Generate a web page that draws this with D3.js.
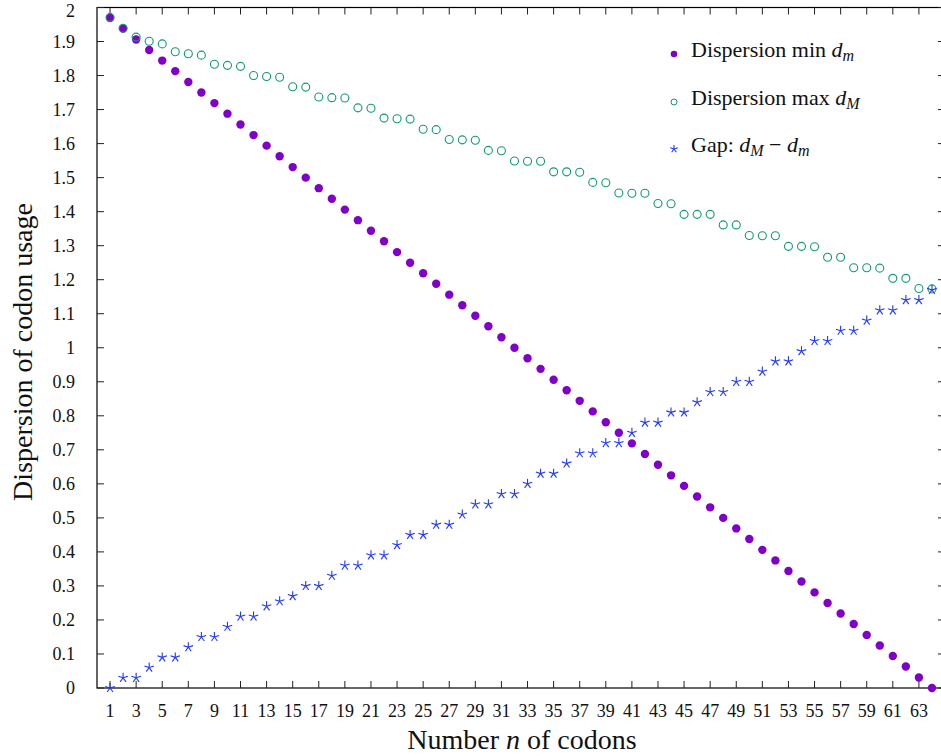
<!DOCTYPE html>
<html><head><meta charset="utf-8">
<script src="https://cdn.jsdelivr.net/npm/d3@7"></script>
<style>body{margin:0;background:#fff}svg{display:block}text{font-family:"Liberation Serif",serif;fill:#111}</style>
</head><body>
<script>
const codons = [1,2,3,4,5,6,7,8,9,10,11,12,13,14,15,16,17,18,19,20,21,22,23,24,25,26,27,28,29,30,31,32,33,34,35,36,37,38,39,40,41,42,43,44,45,46,47,48,49,50,51,52,53,54,55,56,57,58,59,60,61,62,63,64];
const dispMin = [1.969,1.938,1.906,1.875,1.844,1.813,1.781,1.750,1.719,1.688,1.656,1.625,1.594,1.563,1.531,1.500,1.469,1.438,1.406,1.375,1.344,1.313,1.281,1.250,1.219,1.188,1.156,1.125,1.094,1.063,1.031,1.000,0.969,0.938,0.906,0.875,0.844,0.813,0.781,0.750,0.719,0.688,0.656,0.625,0.594,0.563,0.531,0.500,0.469,0.438,0.406,0.375,0.344,0.313,0.281,0.250,0.219,0.188,0.156,0.125,0.094,0.063,0.031,0.000];
const dispMax = [1.971,1.939,1.913,1.901,1.893,1.870,1.864,1.860,1.833,1.830,1.827,1.800,1.797,1.795,1.767,1.766,1.737,1.735,1.734,1.705,1.704,1.675,1.673,1.672,1.642,1.641,1.612,1.611,1.610,1.580,1.579,1.549,1.548,1.548,1.517,1.517,1.516,1.486,1.485,1.455,1.454,1.454,1.424,1.423,1.392,1.392,1.392,1.361,1.361,1.330,1.329,1.329,1.298,1.298,1.297,1.266,1.266,1.235,1.235,1.234,1.204,1.204,1.174,1.173];
const gap = [0,0.03,0.03,0.06,0.09,0.09,0.12,0.15,0.15,0.18,0.21,0.21,0.24,0.255,0.27,0.30,0.30,0.33,0.36,0.36,0.39,0.39,0.42,0.45,0.45,0.48,0.48,0.51,0.54,0.54,0.57,0.57,0.60,0.63,0.63,0.66,0.69,0.69,0.72,0.72,0.75,0.78,0.78,0.81,0.81,0.84,0.87,0.87,0.90,0.90,0.93,0.96,0.96,0.99,1.02,1.02,1.05,1.05,1.08,1.11,1.11,1.14,1.14,1.17];
const xTicks = [1,3,5,7,9,11,13,15,17,19,21,23,25,27,29,31,33,35,37,39,41,43,45,47,49,51,53,55,57,59,61,63];
const yTicks = [0,0.1,0.2,0.3,0.4,0.5,0.6,0.7,0.8,0.9,1,1.1,1.2,1.3,1.4,1.5,1.6,1.7,1.8,1.9,2];
const yTickLabels = ["0","0.1","0.2","0.3","0.4","0.5","0.6","0.7","0.8","0.9","1","1.1","1.2","1.3","1.4","1.5","1.6","1.7","1.8","1.9","2"];

const W = 941, H = 756;
const colMin = "#8000c8", colMax = "#129a6e", colGap = "#1f36ff";
const svg = d3.select("body").append("svg").attr("width", W).attr("height", H)
  .attr("font-family", "'Liberation Serif', serif");
const x = d3.scaleLinear().domain([0, 65]).range([97, 945]);
const y = d3.scaleLinear().domain([0, 2]).range([688, 7.5]);
const x0 = x.range()[0], x1 = x.range()[1], y0 = y.range()[0], y1 = y.range()[1];

svg.append("rect").attr("x", x0).attr("y", y1).attr("width", x1 - x0).attr("height", y0 - y1)
  .attr("fill", "none").attr("stroke", "#000").attr("stroke-width", 1.2);

const tl = 7;
const gx = svg.append("g");
xTicks.forEach(t => {
  gx.append("line").attr("x1", x(t)).attr("x2", x(t)).attr("y1", y0).attr("y2", y0 - tl).attr("stroke", "#222").attr("stroke-width", 1);
  gx.append("line").attr("x1", x(t)).attr("x2", x(t)).attr("y1", y1).attr("y2", y1 + tl).attr("stroke", "#222").attr("stroke-width", 1);
  gx.append("text").attr("x", x(t)).attr("y", 717).attr("text-anchor", "middle").attr("font-size", 18).text(t);
});
const gy = svg.append("g");
yTicks.forEach((t, i) => {
  gy.append("line").attr("x1", x0).attr("x2", x0 + tl).attr("y1", y(t)).attr("y2", y(t)).attr("stroke", "#222").attr("stroke-width", 1);
  gy.append("line").attr("x1", x1).attr("x2", x1 - tl).attr("y1", y(t)).attr("y2", y(t)).attr("stroke", "#222").attr("stroke-width", 1);
  gy.append("text").attr("x", 75).attr("y", Math.max(y(t) + 6, 16.5)).attr("text-anchor", "end").attr("font-size", 18).text(yTickLabels[i]);
});

const xt = svg.append("text").attr("x", 522).attr("y", 749).attr("text-anchor", "middle").attr("font-size", 28);
xt.append("tspan").text("Number ");
xt.append("tspan").attr("font-style", "italic").text("n");
xt.append("tspan").text(" of codons");
svg.append("text").attr("transform", "translate(32,352) rotate(-90)").attr("text-anchor", "middle").attr("font-size", 28).text("Dispersion of codon usage");

function star(g, cx, cy, r, col) {
  for (let k = 0; k < 5; k++) {
    const a = -Math.PI / 2 + k * 2 * Math.PI / 5;
    g.append("line").attr("x1", cx).attr("y1", cy).attr("x2", cx + r * Math.cos(a)).attr("y2", cy + r * Math.sin(a))
      .attr("stroke", col).attr("stroke-width", 1.1);
  }
}
const plot = svg.append("g");
plot.selectAll("circle.min").data(codons).enter().append("circle").attr("class", "min")
  .attr("cx", (d) => x(d)).attr("cy", (d, i) => y(dispMin[i])).attr("r", 4.2).attr("fill", colMin);
plot.selectAll("circle.max").data(codons).enter().append("circle").attr("class", "max")
  .attr("cx", (d) => x(d)).attr("cy", (d, i) => y(dispMax[i])).attr("r", 4).attr("fill", "none").attr("stroke", colMax).attr("stroke-width", 1.1);
const gs = plot.append("g");
codons.forEach((d, i) => star(gs, x(d), y(gap[i]), 5, colGap));

const lg = svg.append("g");
const rows = [
  {yb: 57, mk: "dot", main: "Dispersion min ", sub: "m", extra: false},
  {yb: 105, mk: "circ", main: "Dispersion max ", sub: "M", extra: false},
  {yb: 152, mk: "star", main: "Gap: ", sub: "M", extra: true}
];
rows.forEach(r => {
  const my = r.yb - 3;
  if (r.mk === "dot") lg.append("circle").attr("cx", 674).attr("cy", my).attr("r", 3.3).attr("fill", colMin);
  if (r.mk === "circ") lg.append("circle").attr("cx", 674).attr("cy", my).attr("r", 3).attr("fill", "none").attr("stroke", colMax).attr("stroke-width", 1);
  if (r.mk === "star") star(lg, 674, my, 4, colGap);
  const t = lg.append("text").attr("x", 691).attr("y", r.yb).attr("font-size", 22);
  t.append("tspan").text(r.main);
  t.append("tspan").attr("font-style", "italic").text("d");
  t.append("tspan").attr("font-style", "italic").attr("font-size", 16).attr("dy", 4).text(r.sub);
  if (r.extra) {
    t.append("tspan").attr("dy", -4).text(" \u2212 ");
    t.append("tspan").attr("font-style", "italic").text("d");
    t.append("tspan").attr("font-style", "italic").attr("font-size", 16).attr("dy", 4).text("m");
  }
});
</script>
</body></html>
